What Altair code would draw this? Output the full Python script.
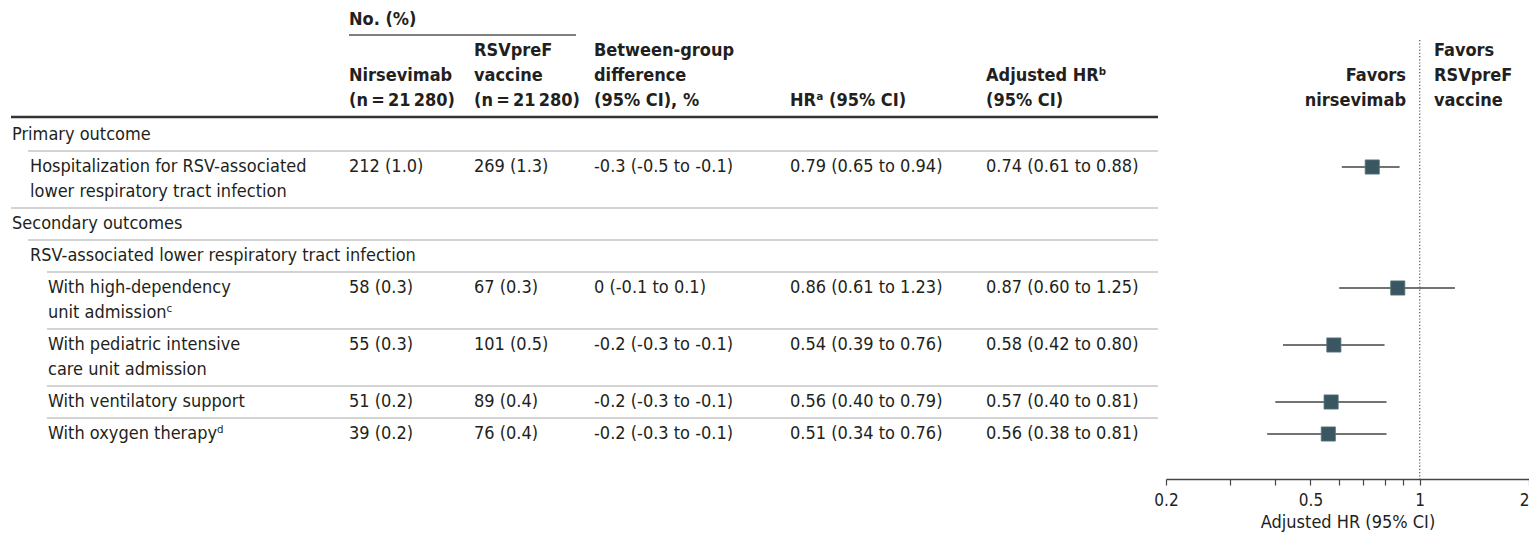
import altair as alt
import pandas as pd

# ---------------- data ----------------
outcomes = [
    "Primary outcome",
    "Hospitalization for RSV-associated\nlower respiratory tract infection",
    "Secondary outcomes",
    "RSV-associated lower respiratory tract infection",
    "With high-dependency\nunit admissionᶜ",
    "With pediatric intensive\ncare unit admission",
    "With ventilatory support",
    "With oxygen therapyᵈ",
]
levels = [0, 1, 0, 1, 2, 2, 2, 2]
nirsevimab = ["", "212 (1.0)", "", "", "58 (0.3)", "55 (0.3)", "51 (0.2)", "39 (0.2)"]
rsvpref = ["", "269 (1.3)", "", "", "67 (0.3)", "101 (0.5)", "89 (0.4)", "76 (0.4)"]
difference = ["", "-0.3 (-0.5 to -0.1)", "", "", "0 (-0.1 to 0.1)",
              "-0.2 (-0.3 to -0.1)", "-0.2 (-0.3 to -0.1)", "-0.2 (-0.3 to -0.1)"]
hr_ci = ["", "0.79 (0.65 to 0.94)", "", "", "0.86 (0.61 to 1.23)",
         "0.54 (0.39 to 0.76)", "0.56 (0.40 to 0.79)", "0.51 (0.34 to 0.76)"]
adj_hr_ci = ["", "0.74 (0.61 to 0.88)", "", "", "0.87 (0.60 to 1.25)",
             "0.58 (0.42 to 0.80)", "0.57 (0.40 to 0.81)", "0.56 (0.38 to 0.81)"]
adj_hr = [None, 0.74, None, None, 0.87, 0.58, 0.57, 0.56]
adj_lo = [None, 0.61, None, None, 0.60, 0.42, 0.40, 0.38]
adj_hi = [None, 0.88, None, None, 1.25, 0.80, 0.81, 0.81]

group_header = "No. (%)"
col_headers = [
    ["Nirsevimab", "(n\u2009=\u200921\u2009280)"],
    ["RSVpreF", "vaccine", "(n\u2009=\u200921\u2009280)"],
    ["Between-group", "difference", "(95% CI), %"],
    ["HRᵃ (95% CI)"],
    ["Adjusted HRᵇ", "(95% CI)"],
]
favors_left = ["Favors", "nirsevimab"]
favors_right = ["Favors", "RSVpreF", "vaccine"]
tick_values = [0.2, 0.3, 0.4, 0.5, 0.6, 0.7, 0.8, 0.9, 1, 2]
tick_labels = [0.2, 0.5, 1, 2]
x_title = "Adjusted HR (95% CI)"
null_value = [1]

# ---------------- layout / style ----------------
W, H = 1521, 527
FONT = "DejaVu Sans Condensed, DejaVu Sans, sans-serif"
FS = 18
LINE = 25
TEXT = "#231f20"
SQ = "#395661"
level_text_x = [4, 22, 40]
level_rule_x = [3, 20, 39]
table_right = 1150
col_x = [341, 466, 586, 782, 978]
header_last_y = 93
row_start = 111
forest_range = [1158, 1521]
axis_y = 471
fav_left_x, fav_right_x = 1398, 1426

# rows
body_rows, sep_rows, forest_rows = [], [], []
top = row_start
for i, label in enumerate(outcomes):
    lines = label.split("\n")
    center = top + 16
    for j, ln in enumerate(lines):
        body_rows.append({"text": ln, "x": level_text_x[levels[i]], "y": center + LINE * j})
    for k, col in enumerate([nirsevimab, rsvpref, difference, hr_ci, adj_hr_ci]):
        if col[i]:
            body_rows.append({"text": col[i], "x": col_x[k], "y": center})
    if i > 0:
        sep_rows.append({"x1": level_rule_x[levels[i]], "x2": table_right, "y": top})
    if adj_hr[i] is not None:
        forest_rows.append({"ahr": adj_hr[i], "lo": adj_lo[i], "hi": adj_hi[i], "y": center})
    top += 7 + LINE * len(lines)

body_df = pd.DataFrame(body_rows)
sep_df = pd.DataFrame(sep_rows)
forest_df = pd.DataFrame(forest_rows)

head_rows = [{"text": group_header, "x": col_x[0], "y": 12}]
for k, hl in enumerate(col_headers):
    n = len(hl)
    for j, t in enumerate(hl):
        head_rows.append({"text": t, "x": col_x[k], "y": header_last_y - LINE * (n - 1 - j)})
head_df = pd.DataFrame(head_rows)

fav_l_df = pd.DataFrame([{"text": t, "x": fav_left_x, "y": header_last_y - LINE * (len(favors_left) - 1 - j)}
                         for j, t in enumerate(favors_left)])
fav_r_df = pd.DataFrame([{"text": t, "x": fav_right_x, "y": header_last_y - LINE * (len(favors_right) - 1 - j)}
                         for j, t in enumerate(favors_right)])

thick_df = pd.DataFrame([{"x1": 3, "x2": table_right, "y": 109}])
under_df = pd.DataFrame([{"x1": col_x[0], "x2": 568, "y": 27}])

px = lambda f: alt.X(f, scale=None, axis=None)
py = lambda f: alt.Y(f, scale=None, axis=None)

def text_layer(df, align="left", weight="normal"):
    return alt.Chart(df).mark_text(font=FONT, fontSize=FS, color=TEXT, align=align, fontWeight=weight,
                                   baseline="middle").encode(x=px("x:Q"), y=py("y:Q"), text="text:N")

body = text_layer(body_df)
head = text_layer(head_df, weight="bold")
fav_l = text_layer(fav_l_df, align="right", weight="bold")
fav_r = text_layer(fav_r_df, weight="bold")

seps = alt.Chart(sep_df).mark_rule(color="#c4c4c4", strokeWidth=1.3).encode(
    x=px("x1:Q"), x2="x2:Q", y=py("y:Q"))
thick = alt.Chart(thick_df).mark_rule(color="#333333", strokeWidth=2.5).encode(
    x=px("x1:Q"), x2="x2:Q", y=py("y:Q"))
under = alt.Chart(under_df).mark_rule(color="#555555", strokeWidth=1.5).encode(
    x=px("x1:Q"), x2="x2:Q", y=py("y:Q"))

xscale = alt.Scale(type="log", domain=[0.2, 2], range=forest_range)
label_list = ", ".join(str(v) for v in tick_labels)
xaxis = alt.Axis(
    values=tick_values, format="~g",
    labelExpr=f"indexof([{label_list}], datum.value) >= 0 ? datum.label : ''",
    labelAlign={"condition": {"test": f"datum.value >= {tick_labels[-1]}", "value": "right"}, "value": "center"},
    title=x_title, offset=axis_y - H, grid=False, tickSize=6, tickColor="#444444", tickWidth=1.2,
    domainColor="#444444", domainWidth=1.5, labelFlush=False, labelOverlap=False,
    labelFont=FONT, labelFontSize=17, labelColor=TEXT, labelPadding=7,
    titleFont=FONT, titleFontSize=18, titleFontWeight="normal", titleColor=TEXT, titlePadding=5,
)

null_line = alt.Chart(pd.DataFrame({"v": null_value})).mark_rule(
    color="#555555", strokeWidth=1.2, strokeDash=[1.2, 2]).encode(
    x=alt.X("v:Q", scale=xscale, axis=xaxis), y=alt.value(32), y2=alt.value(axis_y))
ci = alt.Chart(forest_df).mark_rule(color="#444444", strokeWidth=1.5).encode(
    x=alt.X("lo:Q", scale=xscale), x2="hi:Q", y=py("y:Q"))
pts = alt.Chart(forest_df).mark_square(size=200, color=SQ, opacity=1, stroke="#58737c", strokeWidth=0.8).encode(
    x=alt.X("ahr:Q", scale=xscale), y=py("y:Q"))

chart = alt.layer(null_line, seps, thick, under, head, body, fav_l, fav_r, ci, pts).properties(
    width=W, height=H, autosize=alt.AutoSizeParams(type="none"), padding=0
).configure_view(stroke=None)

chart.save("out.html", embed_options={"renderer": "svg", "actions": False})
